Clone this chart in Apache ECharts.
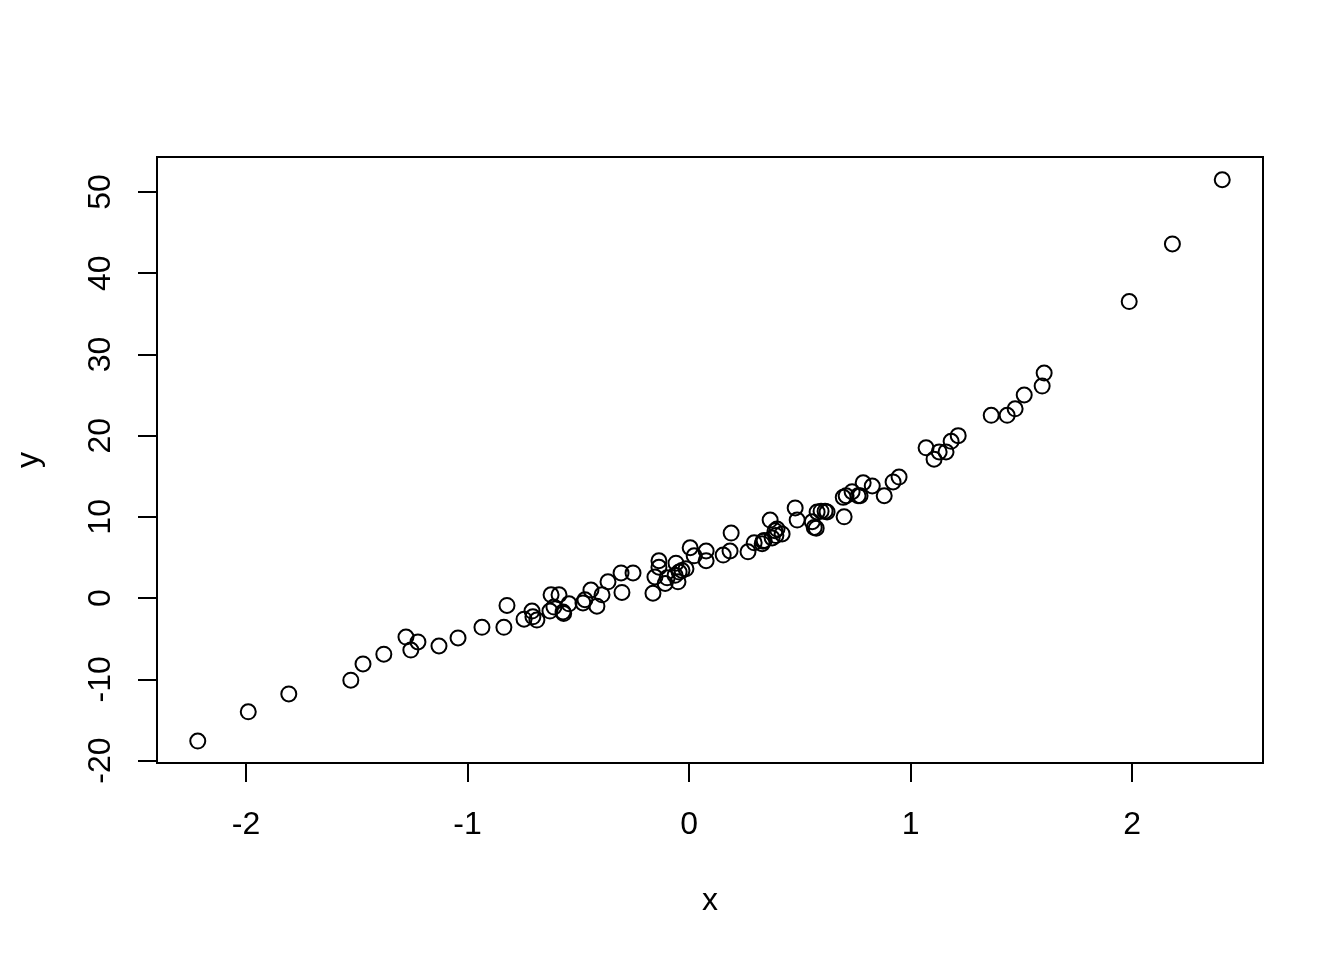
<!DOCTYPE html>
<html>
<head>
<meta charset="utf-8">
<script src="https://cdn.jsdelivr.net/npm/echarts@6/dist/echarts.min.js"></script>
<style>
html,body{margin:0;padding:0;background:#fff;}
#chart{width:1344px;height:960px;}
</style>
</head>
<body>
<div id="chart"></div>
<script>
const xValues = [-2.218,-1.99,-1.807,-1.527,-1.472,-1.378,-1.278,-1.256,-1.224,-1.129,
  -1.043,-0.935,-0.836,-0.822,-0.745,-0.709,-0.705,-0.687,-0.628,-0.623,
  -0.61,-0.587,-0.569,-0.566,-0.542,-0.479,-0.47,-0.443,-0.416,-0.393,
  -0.366,-0.307,-0.303,-0.253,-0.163,-0.154,-0.136,-0.136,-0.108,-0.099,
  -0.059,-0.063,-0.05,-0.045,-0.032,-0.014,0.005,0.023,0.077,0.077,
  0.154,0.185,0.19,0.266,0.294,0.33,0.334,0.339,0.366,0.375,
  0.388,0.397,0.392,0.42,0.479,0.488,0.556,0.565,0.574,0.578,
  0.596,0.614,0.623,0.696,0.7,0.709,0.736,0.763,0.772,0.786,
  0.827,0.881,0.921,0.948,1.07,1.106,1.129,1.16,1.183,1.215,
  1.364,1.436,1.472,1.513,1.594,1.603,1.987,2.182,2.407];
const yValues = [-17.6,-14.0,-11.8,-10.1,-8.1,-6.9,-4.8,-6.4,-5.4,-5.9,
  -4.9,-3.6,-3.6,-0.9,-2.6,-1.6,-2.3,-2.7,-1.6,0.4,
  -1.1,0.4,-1.7,-1.9,-0.7,-0.6,-0.2,1.0,-1.0,0.4,
  2.0,3.1,0.7,3.1,0.6,2.6,4.6,3.8,1.8,2.5,
  4.3,2.8,2.0,3.2,3.4,3.6,6.2,5.2,4.6,5.8,
  5.3,5.8,8.0,5.7,6.8,6.7,7.0,7.1,9.6,7.4,
  8.3,8.5,7.7,7.9,11.1,9.6,9.4,8.7,8.6,10.6,
  10.7,10.7,10.6,12.4,10.0,12.6,13.1,12.6,12.6,14.2,
  13.8,12.6,14.3,14.9,18.5,17.1,18.0,18.0,19.3,20.0,
  22.5,22.5,23.3,25.0,26.1,27.7,36.5,43.6,51.5];
const xTicks = [-2,-1,0,1,2];
const yTicks = [-20,-10,0,10,20,30,40,50];

const points = xValues.map((x,i)=>[x,yValues[i]]);
const font = 'Liberation Sans, Arial, Helvetica, sans-serif';
const chart = echarts.init(document.getElementById('chart'));
chart.setOption({
  animation:false,
  backgroundColor:'#fff',
  grid:{left:157,right:81,top:157,bottom:197,show:true,borderColor:'#000',borderWidth:2,backgroundColor:'transparent'},
  xAxis:{type:'value',min:-2.402,max:2.591,
    name:'x',nameLocation:'middle',nameGap:122,
    nameTextStyle:{fontFamily:font,fontSize:32,color:'#000'},
    axisLine:{show:false,onZero:false},splitLine:{show:false},
    axisTick:{show:true,inside:false,length:19,customValues:xTicks,lineStyle:{color:'#000',width:2}},
    axisLabel:{customValues:xTicks,margin:46,fontFamily:font,fontSize:32,color:'#000'}
  },
  yAxis:{type:'value',min:-20.3,max:54.3,
    name:'y',nameLocation:'middle',nameGap:112,nameRotate:90,
    nameTextStyle:{fontFamily:font,fontSize:32,color:'#000'},
    axisLine:{show:false,onZero:false},splitLine:{show:false},
    axisTick:{show:true,inside:false,length:19,customValues:yTicks,lineStyle:{color:'#000',width:2}},
    axisLabel:{customValues:yTicks,rotate:90,margin:40,fontFamily:font,fontSize:32,color:'#000'}
  },
  series:[{type:'scatter',data:points,symbol:'circle',symbolSize:15,
    itemStyle:{color:'transparent',borderColor:'#000',borderWidth:2,opacity:1}}]
});
</script>
</body>
</html>
